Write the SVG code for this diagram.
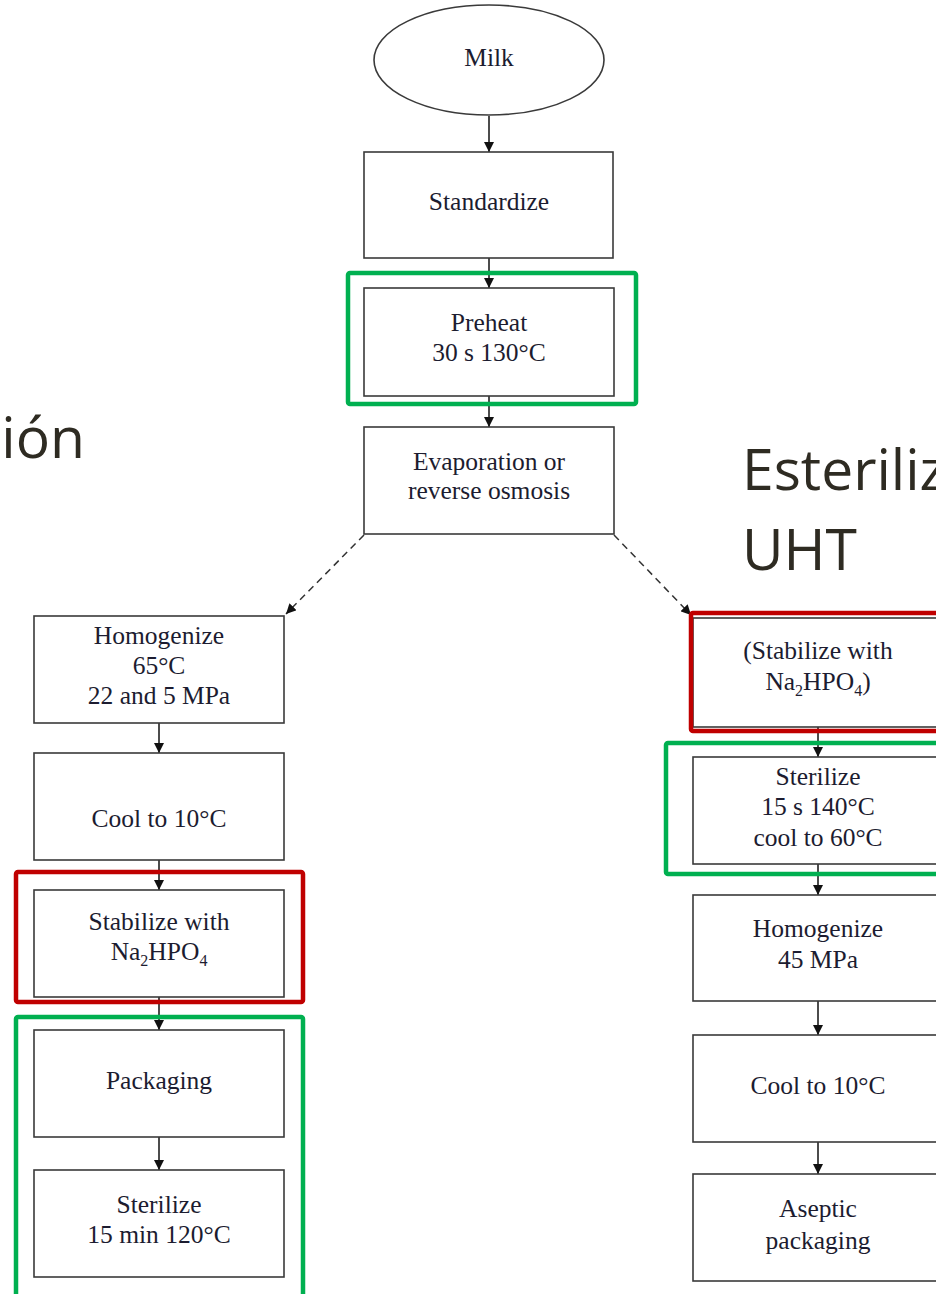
<svg xmlns="http://www.w3.org/2000/svg" width="936" height="1294" viewBox="0 0 936 1294">
<style>
.box{fill:#fff;stroke:#3a3a3a;stroke-width:1.6}
.t{font-family:"Liberation Serif","DejaVu Serif",serif;font-size:25.5px;fill:#1c1c30;text-anchor:middle}
.big{font-family:"Open Sans","Noto Sans",sans-serif;font-size:57px;fill:#2e2b22}
.red{fill:none;stroke:#c00000;stroke-width:4.5}
.grn{fill:none;stroke:#00b050;stroke-width:4.5}
.ln{stroke:#111;stroke-width:1.5;fill:none}
.dash{stroke:#333;stroke-width:1.5;fill:none;stroke-dasharray:7 5}
</style>
<defs>
<marker id="ah" viewBox="0 0 10 10" refX="10" refY="5" markerWidth="10" markerHeight="10" markerUnits="userSpaceOnUse" orient="auto">
<path d="M0,0 L10,5 L0,10 z" fill="#111"/>
</marker>
</defs>
<rect width="936" height="1294" fill="#fff"/>

<text class="big" x="85" y="458" text-anchor="end">ión</text>
<text class="big" x="742" y="490">Esteriliz</text>
<text class="big" x="742" y="570">UHT</text>

<g id="connectors">
<line class="ln" x1="489" y1="116" x2="489" y2="152" marker-end="url(#ah)"/>
<line class="ln" x1="489" y1="258" x2="489" y2="288" marker-end="url(#ah)"/>
<line class="ln" x1="489" y1="396" x2="489" y2="427" marker-end="url(#ah)"/>
<line class="dash" x1="364" y1="535" x2="286" y2="614" marker-end="url(#ah)"/>
<line class="dash" x1="614" y1="535" x2="691" y2="615" marker-end="url(#ah)"/>
<line class="ln" x1="159" y1="723" x2="159" y2="753" marker-end="url(#ah)"/>
<line class="ln" x1="159" y1="860" x2="159" y2="890" marker-end="url(#ah)"/>
<line class="ln" x1="159" y1="997" x2="159" y2="1030" marker-end="url(#ah)"/>
<line class="ln" x1="159" y1="1137" x2="159" y2="1170" marker-end="url(#ah)"/>
<line class="ln" x1="818" y1="727" x2="818" y2="757" marker-end="url(#ah)"/>
<line class="ln" x1="818" y1="864" x2="818" y2="895" marker-end="url(#ah)"/>
<line class="ln" x1="818" y1="1001" x2="818" y2="1035" marker-end="url(#ah)"/>
<line class="ln" x1="818" y1="1142" x2="818" y2="1174" marker-end="url(#ah)"/>
</g>

<g id="milk">
<ellipse cx="489" cy="60" rx="115" ry="55" class="box"/>
<text class="t" x="489" y="66">Milk</text>
</g>
<g id="standardize">
<rect class="box" x="364" y="152" width="249" height="106"/>
<text class="t" x="489" y="210">Standardize</text>
</g>
<g id="preheat">
<rect class="box" x="364" y="288" width="250" height="108"/>
<text class="t" x="489" y="331">Preheat</text>
<text class="t" x="489" y="361">30 s 130°C</text>
<rect class="grn" x="348" y="273" width="288" height="131" rx="2"/>
</g>
<g id="evaporation">
<rect class="box" x="364" y="427" width="250" height="107"/>
<text class="t" x="489" y="470">Evaporation or</text>
<text class="t" x="489" y="499">reverse osmosis</text>
</g>

<g id="homogenize-left">
<rect class="box" x="34" y="616" width="250" height="107"/>
<text class="t" x="159" y="644">Homogenize</text>
<text class="t" x="159" y="674">65°C</text>
<text class="t" x="159" y="704">22 and 5 MPa</text>
</g>
<g id="cool-left">
<rect class="box" x="34" y="753" width="250" height="107"/>
<text class="t" x="159" y="827">Cool to 10°C</text>
</g>
<g id="stabilize-left">
<rect class="box" x="34" y="890" width="250" height="107"/>
<text class="t" x="159" y="930">Stabilize with</text>
<text class="t" x="159" y="960">Na<tspan font-size="16" dy="6">2</tspan><tspan dy="-6">HPO</tspan><tspan font-size="16" dy="6">4</tspan></text>
<rect class="red" x="16" y="872" width="287" height="130" rx="2"/>
</g>
<g id="packaging-left">
<rect class="box" x="34" y="1030" width="250" height="107"/>
<text class="t" x="159" y="1089">Packaging</text>
</g>
<g id="sterilize-left">
<rect class="box" x="34" y="1170" width="250" height="107"/>
<text class="t" x="159" y="1213">Sterilize</text>
<text class="t" x="159" y="1243">15 min 120°C</text>
<rect class="grn" x="16" y="1017" width="287" height="290" rx="2"/>
</g>

<g id="stabilize-right">
<rect class="box" x="693" y="618" width="250" height="109"/>
<text class="t" x="818" y="659">(Stabilize with</text>
<text class="t" x="818" y="690">Na<tspan font-size="16" dy="6">2</tspan><tspan dy="-6">HPO</tspan><tspan font-size="16" dy="6">4</tspan><tspan dy="-6">)</tspan></text>
<rect class="red" x="691" y="613" width="260" height="118" rx="2"/>
</g>
<g id="sterilize-right">
<rect class="box" x="693" y="757" width="250" height="107"/>
<text class="t" x="818" y="785">Sterilize</text>
<text class="t" x="818" y="815">15 s 140°C</text>
<text class="t" x="818" y="846">cool to 60°C</text>
<rect class="grn" x="666" y="743" width="285" height="131" rx="2"/>
</g>
<g id="homogenize-right">
<rect class="box" x="693" y="895" width="250" height="106"/>
<text class="t" x="818" y="937">Homogenize</text>
<text class="t" x="818" y="968">45 MPa</text>
</g>
<g id="cool-right">
<rect class="box" x="693" y="1035" width="250" height="107"/>
<text class="t" x="818" y="1094">Cool to 10°C</text>
</g>
<g id="aseptic-right">
<rect class="box" x="693" y="1174" width="250" height="107"/>
<text class="t" x="818" y="1217">Aseptic</text>
<text class="t" x="818" y="1249">packaging</text>
</g>
</svg>
